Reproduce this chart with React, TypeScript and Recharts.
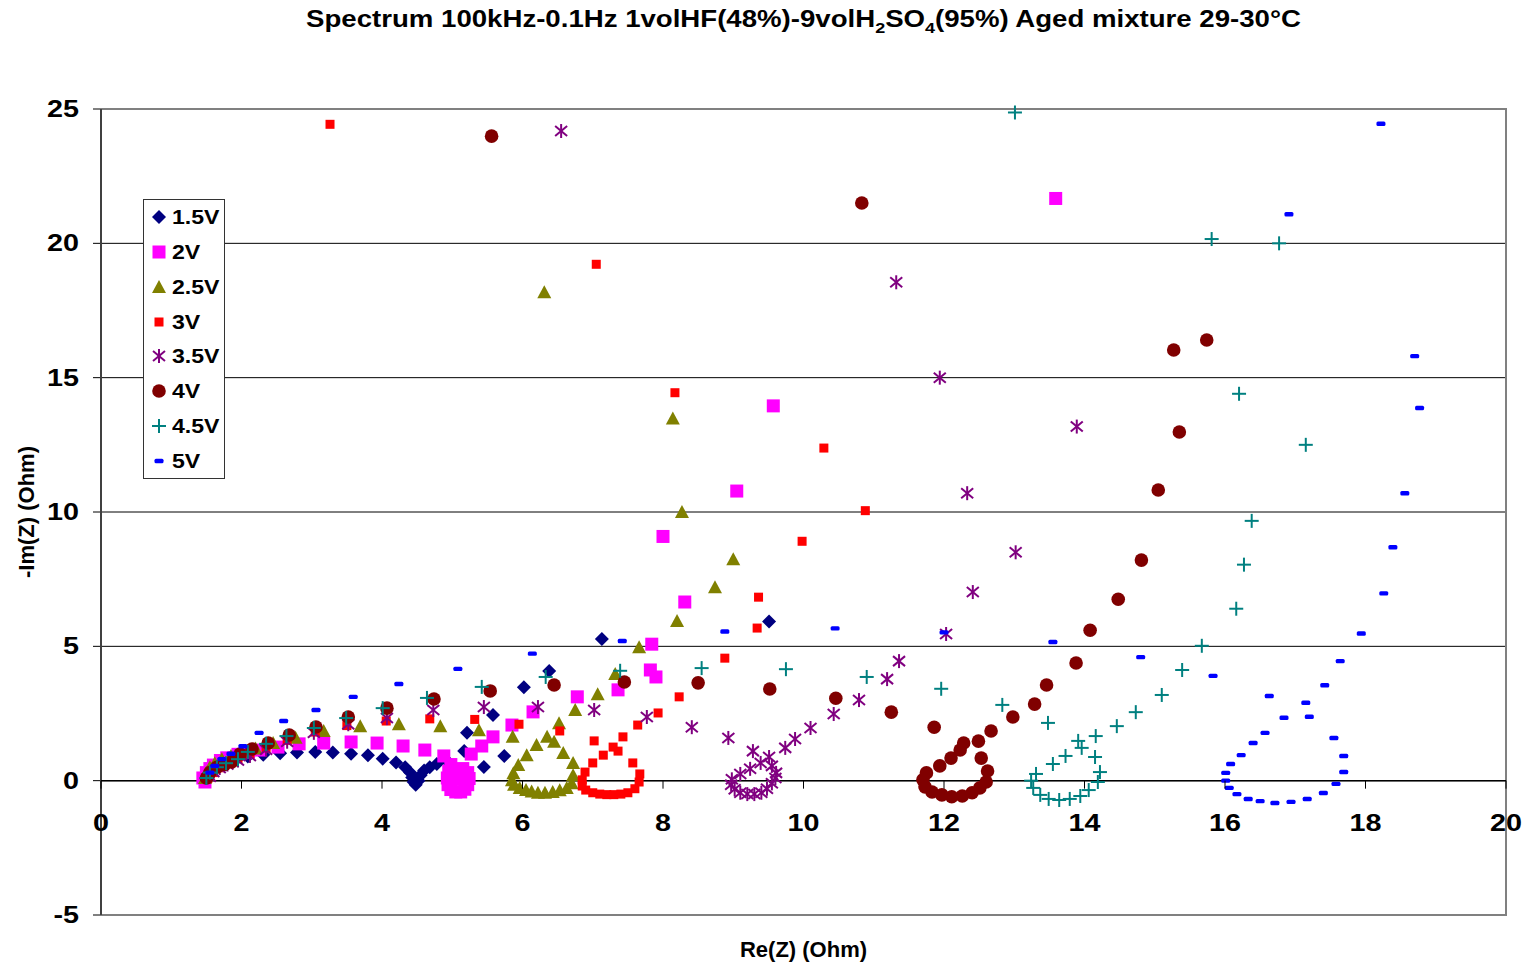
import {Legend, ReferenceArea, ReferenceLine, Scatter, ScatterChart, CartesianGrid, XAxis, YAxis} from "recharts";

const W = 1539;
const H = 972;
const PLOT_TOP = 109;
const PLOT_BOTTOM = 915;
const Y_MIN = -5;
const Y_MAX = 25;

const xTicks = [0, 2, 4, 6, 8, 10, 12, 14, 16, 18, 20];
const yTicks = [-5, 0, 5, 10, 15, 20, 25];

// [Re(Z), -Im(Z)] per applied voltage
const v15: number[][] = [
  [1.5, 0.05], [1.52, 0.25], [1.58, 0.45], [1.68, 0.62], [1.8, 0.75], [1.95, 0.85], [2.09, 0.9], [2.31, 0.96],
  [2.55, 1.02], [2.79, 1.05], [3.05, 1.07], [3.3, 1.05], [3.56, 1.0], [3.8, 0.95], [4.01, 0.82], [4.2, 0.68],
  [4.33, 0.5], [4.4, 0.3], [4.43, 0.12], [4.45, -0.05], [4.48, -0.15], [4.52, 0.0], [4.55, 0.2], [4.6, 0.38],
  [4.68, 0.5], [4.78, 0.62], [4.92, 0.75], [5.17, 1.1], [5.45, 0.51], [5.74, 0.92], [5.21, 1.78], [5.58, 2.44],
  [6.02, 3.48], [6.38, 4.08], [7.13, 5.27], [9.51, 5.92],
];
const v20: number[][] = [
  [1.45, 0.1], [1.48, -0.05], [1.5, 0.3], [1.55, 0.45], [1.6, 0.58], [1.7, 0.75], [1.79, 0.85], [1.95, 0.98],
  [2.1, 1.06], [2.26, 1.14], [2.52, 1.25], [2.82, 1.37], [3.17, 1.4], [3.56, 1.44], [3.93, 1.4], [4.3, 1.29],
  [4.61, 1.14], [4.88, 0.92], [4.98, 0.6], [4.95, 0.35], [4.93, 0.1], [4.94, -0.15], [4.98, -0.33], [5.05, -0.42],
  [5.12, -0.42], [5.18, -0.32], [5.22, -0.15], [5.24, 0.08], [5.22, 0.3], [5.15, 0.45], [5.05, 0.3], [5.08, 0.05],
  [5.27, 0.99], [5.42, 1.29], [5.58, 1.63], [5.85, 2.07], [6.15, 2.56], [6.78, 3.12], [7.36, 3.38], [7.9, 3.86],
  [7.82, 4.12], [7.84, 5.08], [8.31, 6.65], [8.0, 9.09], [9.05, 10.78], [9.57, 13.95], [13.59, 21.67],
];
const v25: number[][] = [
  [1.48, 0.1], [1.5, 0.3], [1.55, 0.5], [1.62, 0.65], [1.72, 0.8], [1.85, 0.92], [2.0, 1.05], [2.2, 1.2],
  [2.45, 1.4], [2.77, 1.6], [3.17, 1.85], [3.69, 2.03], [4.24, 2.1], [4.83, 2.03], [5.38, 1.88], [5.86, 1.63],
  [6.06, 0.95], [5.94, 0.58], [5.87, 0.28], [5.85, 0.02], [5.88, -0.15], [5.96, -0.27], [6.05, -0.35], [6.13, -0.4],
  [6.22, -0.45], [6.32, -0.45], [6.43, -0.42], [6.53, -0.36], [6.63, -0.27], [6.7, -0.1], [6.72, 0.2], [6.72, 0.66],
  [6.58, 1.03], [6.45, 1.45], [6.35, 1.63], [6.2, 1.33], [6.52, 2.14], [6.75, 2.63], [7.07, 3.22], [7.32, 3.97],
  [7.66, 4.97], [8.2, 5.94], [8.74, 7.2], [9.0, 8.24], [8.27, 10.0], [8.14, 13.48], [6.31, 18.18],
];
const v30: number[][] = [
  [1.52, 0.08], [1.55, 0.2], [1.6, 0.3], [1.68, 0.48], [1.8, 0.65], [1.95, 0.82], [2.12, 1.0], [2.35, 1.22],
  [2.65, 1.5], [3.05, 1.81], [3.5, 2.05], [4.06, 2.22], [4.68, 2.3], [5.32, 2.28], [5.95, 2.1], [6.53, 1.85],
  [7.02, 1.48], [7.15, 0.95], [7.0, 0.66], [6.89, 0.32], [6.85, 0.03], [6.85, -0.2], [6.9, -0.35], [7.0, -0.45],
  [7.1, -0.5], [7.2, -0.52], [7.3, -0.52], [7.4, -0.5], [7.5, -0.45], [7.6, -0.3], [7.66, -0.05], [7.67, 0.25],
  [7.57, 0.66], [7.36, 1.1], [7.29, 1.25], [7.43, 1.63], [7.64, 2.07], [7.93, 2.52], [8.23, 3.12], [8.88, 4.56],
  [9.34, 5.68], [9.36, 6.83], [9.98, 8.91], [10.88, 10.05], [10.29, 12.38], [8.17, 14.44], [7.05, 19.22], [3.26, 24.43],
];
const v35: number[][] = [
  [1.55, 0.15], [1.6, 0.32], [1.69, 0.47], [1.8, 0.6], [1.95, 0.75], [2.12, 0.92], [2.35, 1.15], [2.65, 1.45],
  [3.03, 1.78], [3.52, 2.1], [4.07, 2.33], [4.73, 2.63], [5.45, 2.74], [6.22, 2.74], [7.02, 2.63], [7.77, 2.37],
  [8.41, 1.99], [8.93, 1.59], [9.1, 0.25], [8.98, 0.05], [8.97, -0.15], [9.02, -0.32], [9.1, -0.45], [9.2, -0.5],
  [9.3, -0.5], [9.4, -0.45], [9.48, -0.3], [9.55, -0.1], [9.6, 0.1], [9.61, 0.29], [9.55, 0.55], [9.24, 0.44],
  [9.39, 0.66], [9.51, 0.88], [9.28, 1.1], [9.74, 1.22], [9.88, 1.55], [10.1, 1.96], [10.43, 2.48], [10.79, 3.0],
  [11.19, 3.78], [11.36, 4.45], [12.03, 5.46], [12.41, 7.02], [13.02, 8.5], [12.33, 10.7], [13.89, 13.18],
  [11.94, 15.0], [11.32, 18.55], [6.55, 24.18],
];
const v40: number[][] = [
  [1.5, 0.1], [1.55, 0.3], [1.65, 0.5], [1.76, 0.6], [1.86, 0.7], [1.98, 0.99], [2.15, 1.18], [2.38, 1.4],
  [2.68, 1.7], [3.06, 2.0], [3.52, 2.37], [4.07, 2.7], [4.74, 3.04], [5.54, 3.34], [6.45, 3.56], [7.45, 3.67],
  [8.5, 3.64], [9.52, 3.41], [10.46, 3.07], [11.25, 2.55], [11.86, 1.99], [11.94, 0.55], [11.75, 0.29], [11.7, 0.03],
  [11.73, -0.23], [11.83, -0.42], [11.97, -0.53], [12.11, -0.6], [12.26, -0.57], [12.4, -0.45], [12.51, -0.27],
  [12.6, -0.05], [12.62, 0.36], [12.53, 0.84], [12.1, 0.84], [12.23, 1.14], [12.28, 1.4], [12.49, 1.47],
  [12.67, 1.85], [12.98, 2.37], [13.29, 2.85], [13.46, 3.56], [13.88, 4.38], [14.08, 5.6], [14.48, 6.75],
  [14.81, 8.21], [15.05, 10.82], [15.35, 12.98], [15.27, 16.03], [15.74, 16.4], [10.83, 21.5], [5.56, 23.99],
];
const v45: number[][] = [
  [1.5, 0.1], [1.55, 0.3], [1.65, 0.5], [1.78, 0.65], [1.95, 0.8], [2.09, 1.07], [2.35, 1.37], [2.64, 1.66],
  [3.03, 1.96], [3.49, 2.33], [4.01, 2.7], [4.64, 3.08], [5.42, 3.49], [6.33, 3.86], [7.39, 4.09], [8.55, 4.19],
  [9.75, 4.15], [10.9, 3.86], [11.96, 3.42], [12.83, 2.82], [13.48, 2.15], [13.91, 1.48], [13.96, 1.22],
  [13.73, 0.92], [13.55, 0.62], [13.31, 0.25], [13.24, 0.0], [13.27, -0.27], [13.37, -0.53], [13.49, -0.68],
  [13.64, -0.72], [13.79, -0.68], [13.94, -0.57], [14.06, -0.35], [14.19, -0.05], [14.22, 0.32], [14.15, 0.88],
  [14.16, 1.66], [14.46, 2.03], [14.73, 2.55], [15.1, 3.19], [15.39, 4.12], [15.67, 5.02], [16.16, 6.4],
  [16.27, 8.04], [16.38, 9.67], [17.15, 12.5], [16.2, 14.4], [16.77, 20.0], [15.81, 20.16], [13.01, 24.87],
];
const v50: number[][] = [
  [1.55, 0.3], [1.62, 0.55], [1.72, 0.8], [1.85, 1.0], [2.02, 1.28], [2.25, 1.78], [2.6, 2.22], [3.06, 2.63],
  [3.59, 3.12], [4.24, 3.6], [5.08, 4.16], [6.14, 4.73], [7.42, 5.2], [8.88, 5.55], [10.45, 5.67], [12.0, 5.52],
  [13.55, 5.16], [14.8, 4.6], [15.83, 3.9], [16.63, 3.15], [16.84, 2.34], [16.57, 1.78], [16.4, 1.4], [16.23, 0.95],
  [16.08, 0.62], [16.01, 0.29], [16.01, 0.0], [16.06, -0.27], [16.17, -0.5], [16.33, -0.68], [16.5, -0.76],
  [16.71, -0.83], [16.94, -0.79], [17.17, -0.68], [17.4, -0.46], [17.58, -0.12], [17.69, 0.32], [17.69, 0.92],
  [17.55, 1.59], [17.2, 2.38], [17.15, 2.9], [17.42, 3.55], [17.64, 4.45], [17.94, 5.48], [18.26, 6.97],
  [18.39, 8.69], [18.56, 10.7], [18.77, 13.87], [18.7, 15.8], [16.91, 21.08], [18.22, 24.45],
];

const series = [
  {name: "1.5V", pts: v15, kind: "diamond", color: "#000080"},
  {name: "2V", pts: v20, kind: "square", color: "#FF00FF"},
  {name: "2.5V", pts: v25, kind: "triangle", color: "#808000"},
  {name: "3V", pts: v30, kind: "small", color: "#FF0000"},
  {name: "3.5V", pts: v35, kind: "star", color: "#800080"},
  {name: "4V", pts: v40, kind: "circle", color: "#800000"},
  {name: "4.5V", pts: v45, kind: "plus", color: "#008080"},
  {name: "5V", pts: v50, kind: "dash", color: "#0000FF"},
];

const font = "'Liberation Sans', Arial, sans-serif";

function Marker({kind, color, cx, cy}: {kind: string; color: string; cx: number; cy: number}) {
  switch (kind) {
    case "diamond":
      return <polygon points={`${cx},${cy - 7} ${cx + 7},${cy} ${cx},${cy + 7} ${cx - 7},${cy}`} fill={color} />;
    case "square":
      return <rect x={cx - 6.5} y={cy - 6.5} width={13} height={13} fill={color} />;
    case "triangle":
      return <polygon points={`${cx},${cy - 7} ${cx + 7},${cy + 6} ${cx - 7},${cy + 6}`} fill={color} />;
    case "small":
      return <rect x={cx - 4.5} y={cy - 4.5} width={9} height={9} fill={color} />;
    case "star":
      return (
        <g stroke={color} strokeWidth={2}>
          <line x1={cx} y1={cy - 7} x2={cx} y2={cy + 7} />
          <line x1={cx - 6} y1={cy - 5} x2={cx + 6} y2={cy + 5} />
          <line x1={cx - 6} y1={cy + 5} x2={cx + 6} y2={cy - 5} />
        </g>
      );
    case "circle":
      return <circle cx={cx} cy={cy} r={6.8} fill={color} />;
    case "plus":
      return (
        <g stroke={color} strokeWidth={2}>
          <line x1={cx - 7} y1={cy} x2={cx + 7} y2={cy} />
          <line x1={cx} y1={cy - 7} x2={cx} y2={cy + 7} />
        </g>
      );
    default:
      return <rect x={cx - 4.5} y={cy - 2.2} width={9} height={4.4} rx={1.5} fill={color} />;
  }
}

function XTick({x, payload}: any) {
  const y0 = PLOT_BOTTOM - ((PLOT_BOTTOM - PLOT_TOP) * (0 - Y_MIN)) / (Y_MAX - Y_MIN);
  return (
    <g>
      <line x1={x} y1={y0} x2={x} y2={y0 + 8} stroke="#000" />
      <text
        transform={`translate(${x},${y0 + 50}) scale(1.25,1)`}
        textAnchor="middle" fontFamily={font} fontWeight="bold" fontSize={23} fill="#000"
      >
        {payload.value}
      </text>
    </g>
  );
}

function YTick({x, y, payload}: any) {
  return (
    <g>
      <line x1={x} y1={y} x2={x + 7} y2={y} stroke="#000" />
      <text
        transform={`translate(${x - 14},${y + 8}) scale(1.25,1)`}
        textAnchor="end" fontFamily={font} fontWeight="bold" fontSize={23} fill="#000"
      >
        {payload.value}
      </text>
    </g>
  );
}

function LegendBox() {
  return (
    <div style={{border: "1px solid #333", background: "#fff", width: 82, boxSizing: "border-box"}}>
      {series.map((s) => (
        <div key={s.name} style={{display: "flex", alignItems: "center", height: 34.75, fontFamily: font, fontWeight: "bold", fontSize: 21}}>
          <svg width={27} height={16} style={{marginLeft: 1}}>
            <Marker kind={s.kind} color={s.color} cx={14} cy={8} />
          </svg>
          <span style={{display: "inline-block", transform: "scaleX(1.1)", transformOrigin: "left center"}}>{s.name}</span>
        </div>
      ))}
    </div>
  );
}

export default function App() {
  return (
    <div style={{position: "relative", width: W, height: H, margin: -8, background: "#fff", overflow: "hidden"}}>
      <div
        style={{
          position: "absolute", top: 6, left: 101, width: 1405, textAlign: "center",
          fontFamily: font, fontWeight: "bold", fontSize: 23, color: "#000",
          transform: "scaleX(1.2)", transformOrigin: "center",
        }}
      >
        Spectrum 100kHz-0.1Hz 1volHF(48%)-9volH
        <span style={{fontSize: 15, position: "relative", top: 6}}>2</span>SO
        <span style={{fontSize: 15, position: "relative", top: 6}}>4</span>(95%) Aged mixture 29-30°C
      </div>
      <div
        style={{
          position: "absolute", left: 27, top: 512, transform: "translate(-50%, -50%) rotate(-90deg)",
          fontFamily: font, fontWeight: "bold", fontSize: 22, whiteSpace: "nowrap",
        }}
      >
        -Im(Z) (Ohm)
      </div>
      <div
        style={{
          position: "absolute", left: 101, width: 1405, top: 937, textAlign: "center",
          fontFamily: font, fontWeight: "bold", fontSize: 22,
        }}
      >
        Re(Z) (Ohm)
      </div>
      <ScatterChart width={W} height={H} margin={{top: PLOT_TOP, right: 33, bottom: 27, left: 41}} style={{position: "absolute", top: 0, left: 0}}>
        <CartesianGrid vertical={false} horizontal stroke="#000" />
        <ReferenceArea x1={0} x2={20} y1={Y_MIN} y2={Y_MAX} fill="none" stroke="#808080" strokeWidth={2} />
        <ReferenceLine y={0} stroke="#000" strokeWidth={1.5} />
        <XAxis
          type="number" dataKey="x" domain={[0, 20]} ticks={xTicks} height={30}
          axisLine={false} tickLine={false} tick={<XTick />} interval={0}
        />
        <YAxis
          type="number" dataKey="y" domain={[Y_MIN, Y_MAX]} ticks={yTicks} width={60}
          axisLine={{stroke: "#000"}} tickLine={false} tick={<YTick />} interval={0}
        />
        <Legend
          layout="horizontal" verticalAlign="middle" align="center"
          content={() => <LegendBox />}
          wrapperStyle={{position: "absolute", left: 143, top: 199, width: 84, height: 280}}
        />
        {series.map((s) => (
          <Scatter
            key={s.name}
            name={s.name}
            data={s.pts.map(([x, y]) => ({x, y}))}
            isAnimationActive={false}
            shape={(p: any) => <Marker kind={s.kind} color={s.color} cx={p.cx} cy={p.cy} />}
          />
        ))}
      </ScatterChart>
    </div>
  );
}
